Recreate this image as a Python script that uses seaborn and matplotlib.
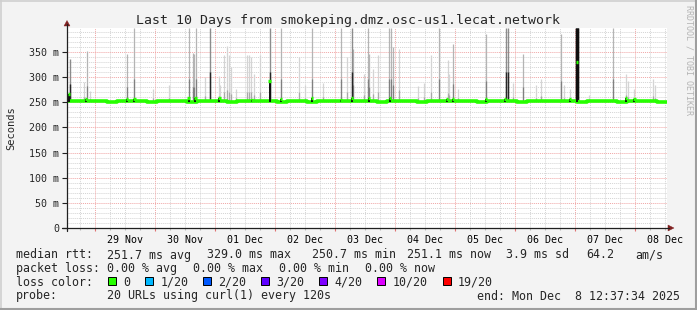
import numpy as np
import matplotlib
matplotlib.use("Agg")
import matplotlib.pyplot as plt
import seaborn as sns
import pandas as pd
from matplotlib.patches import Rectangle, Polygon
from matplotlib.lines import Line2D

W, H = 697, 310

# ---------------- data ----------------
title = "Last 10 Days from smokeping.dmz.osc-us1.lecat.network"
day_labels = ["29 Nov", "30 Nov", "01 Dec", "02 Dec", "03 Dec",
              "04 Dec", "05 Dec", "06 Dec", "07 Dec", "08 Dec"]
first_midnight_h = 11.1          # hours after graph start
y_tick_values = [0, 50, 100, 150, 200, 250, 300, 350]

# median rtt (ms), one value every 4 hours
base_median = [252.0, 251.5, 252.5, 251.8, 251.2, 252.0, 251.6, 252.3, 251.4, 251.9,
               252.2, 251.5, 251.0, 251.8, 252.4, 251.7, 251.3, 252.1, 251.6, 251.9,
               252.5, 251.4, 251.8, 252.0, 251.2, 251.7, 252.3, 251.5, 251.9, 251.6,
               252.1, 251.3, 251.8, 252.4, 251.6, 251.1, 251.9, 252.2, 251.5, 251.8,
               252.0, 251.4, 251.7, 252.3, 251.6, 251.2, 252.0, 251.8, 251.5, 252.1,
               251.7, 251.3, 251.9, 252.2, 251.6, 251.4, 251.8, 252.0, 251.5, 251.3, 251.1]

# smoke spikes: time (h), top of smoke (ms), shade (0 light .. 3 black)
spike_hours = [1.0, 6.9, 8.0, 9.2, 24.0, 26.9, 34.5, 40.9, 48.9, 50.5,
               50.9, 51.6, 55.2, 57.2, 60.9, 61.3, 62.9, 63.9, 64.7, 65.6,
               67.6, 71.9, 72.7, 73.7, 74.9, 77.2, 81.0, 85.6, 92.9, 95.2,
               98.0, 102.3, 109.6, 111.9, 114.0, 114.5, 118.9, 120.3, 120.9, 122.3,
               124.3, 128.9, 129.6, 130.5, 132.9, 140.3, 142.9, 145.6, 148.7, 152.3,
               152.9, 154.3, 156.3, 167.6, 175.6, 176.3, 178.3, 182.3, 187.6, 189.6,
               197.6, 198.9, 201.2, 204.0, 208.9, 218.3, 223.6, 224.3, 226.9, 234.3,
               235.3]
spike_tops = [335, 290, 352, 273, 346, 398, 276, 285, 398, 347,
              345, 398, 300, 398, 303, 285, 343, 362, 343, 320,
              276, 343, 343, 339, 306, 343, 398, 398, 339, 285,
              398, 288, 398, 339, 398, 355, 306, 398, 346, 316,
              343, 398, 398, 359, 355, 283, 288, 343, 398, 333,
              306, 365, 276, 386, 398, 398, 288, 346, 285, 296,
              386, 285, 276, 398, 265, 398, 306, 293, 276, 296,
              285]
spike_shade = [2, 0, 1, 0, 1, 1, 0, 0, 1, 1,
               1, 1, 0, 2, 0, 0, 0, 0, 0, 0,
               0, 0, 0, 0, 0, 0, 2, 1, 0, 0,
               1, 0, 1, 0, 2, 1, 0, 1, 1, 0,
               0, 1, 1, 1, 0, 0, 0, 0, 1, 0,
               0, 1, 0, 1, 2, 2, 0, 1, 0, 0,
               1, 0, 0, 3, 0, 1, 0, 0, 0, 0,
               0]

# median excursions (h, ms)
bump_hours = [0.8, 7.6, 24.0, 26.9, 48.6, 51.3, 60.9, 74.0, 81.0, 85.6,
              98.0, 109.6, 114.0, 120.7, 129.2, 152.0, 154.4, 167.6, 175.2, 201.2,
              204.0, 223.6, 226.9]
bump_values = [267, 256, 256, 257, 258, 258, 258, 255, 292, 257,
               258, 255, 259, 259, 258, 256, 257, 257, 256, 256,
               330, 258, 256]

# legend texts
stats_rtt = ["median rtt:", "251.7 ms avg", "329.0 ms max", "250.7 ms min",
             "251.1 ms now", "3.9 ms sd", "64.2", "am/s"]
stats_loss = ["packet loss:", "0.00 % avg", "0.00 % max", "0.00 % min", "0.00 % now"]
loss_labels = ["0", "1/20", "2/20", "3/20", "4/20", "10/20", "19/20"]
loss_colors = ["#26ff00", "#00b8ff", "#0059ff", "#5e00ff", "#7e00ff", "#dd00ff", "#ff0000"]
probe_text = "20 URLs using curl(1) every 120s"
end_text = "end: Mon Dec  8 12:37:34 2025"

# ---------------- style ----------------
sns.set_theme(style="white")
plt.rcParams["font.family"] = ["DejaVu Sans Mono", "DejaVu Sans"]

BG = "#f3f3f3"
GRID = "#d4d4d4"
MGRID = "#f0a6a6"

fig = plt.figure(figsize=(W / 100, H / 100), dpi=100, facecolor=BG)

def fx(x):
    return x / W

def fy(y):
    return 1 - y / H

# 3D frame
fig.add_artist(Rectangle((0, 0), 1, 1, transform=fig.transFigure,
                         facecolor=BG, edgecolor="none", zorder=-10))
fig.add_artist(Line2D([fx(0.5), fx(0.5)], [fy(0), fy(H)], color="#cfcfcf", lw=1.2))
fig.add_artist(Line2D([fx(0), fx(W)], [fy(0.5), fy(0.5)], color="#cfcfcf", lw=1.2))
fig.add_artist(Line2D([fx(W - 1), fx(W - 1)], [fy(0), fy(H)], color="#9e9e9e", lw=1.5))
fig.add_artist(Line2D([fx(0), fx(W)], [fy(H - 1), fy(H - 1)], color="#9e9e9e", lw=1.5))

ax = fig.add_axes([fx(67), fy(228), 600 / W, 200 / H])
ax.set_facecolor("white")
ax.set_xlim(0, 240)
ax.set_ylim(0, 397.6)
for s in ax.spines.values():
    s.set_visible(False)

# grid
midnights = first_midnight_h + 24 * np.arange(10)
six_h = np.arange(first_midnight_h - 24, 240, 6)
six_h = six_h[(six_h > 0) & (six_h < 240)]
minor_x = [v for v in six_h if min(abs(v - midnights)) > 0.5]
ax.vlines(minor_x, 0, 397.6, colors=GRID, lw=0.7, linestyles=(0, (1, 1)), zorder=0)
minor_y = [v for v in range(10, 400, 10) if v % 50 != 0]
ax.hlines(minor_y, 0, 240, colors=GRID, lw=0.7, linestyles=(0, (1, 1)), zorder=0)
ax.vlines(midnights, 0, 397.6, colors=MGRID, lw=0.7, linestyles=(0, (1, 1)), zorder=0.5)
ax.hlines([v for v in y_tick_values if v > 0], 0, 240, colors=MGRID, lw=0.7,
          linestyles=(0, (1, 1)), zorder=0.5)

# smoke spikes
shade_top = ["#d4d4d4", "#b4b4b4", "#8c8c8c", "#141414"]
shade_low = ["#a8a8a8", "#808080", "#262626", "#101010"]
shade_frac = [0.2, 0.3, 0.4, 1.0]
shade_lw = [0.9, 0.9, 1.0, 2.4]
sh = np.array(spike_hours)
st = np.array(spike_tops, dtype=float)
ss = np.array(spike_shade)
for k in range(4):
    m = ss == k
    if not m.any():
        continue
    ax.vlines(sh[m], 253, st[m], colors=shade_top[k], lw=shade_lw[k], zorder=2)
    ax.vlines(sh[m], 253, 253 + shade_frac[k] * (st[m] - 253),
              colors=shade_low[k], lw=shade_lw[k], zorder=2.1)

# median band
base_hours = np.arange(len(base_median)) * 4.0
df = pd.DataFrame({"h": base_hours, "median": base_median})
sns.lineplot(data=df, x="h", y="median", drawstyle="steps-post",
             color="#26ff00", linewidth=2.6, ax=ax, zorder=3)
bh = np.array(bump_hours)
bv = np.array(bump_values, dtype=float)
ax.vlines(bh, 251, bv, colors="#101010", lw=1.4, zorder=3.5)
ax.hlines(bv, bh - 0.5, bh + 0.5, colors="#26ff00", lw=2.4, zorder=4)
ax.set_xlabel("")
ax.set_ylabel("")

# ticks
noons = midnights + 12
ax.set_xticks(noons, labels=day_labels)
ax.set_yticks(y_tick_values, labels=[f"{v} m" if v else "0" for v in y_tick_values])
ax.tick_params(axis="x", length=0, pad=5, labelsize=7.2, colors="#000000")
ax.tick_params(axis="y", length=3.5, width=0.8, pad=2, labelsize=7.2,
               color="#202020", direction="out", left=True)
# small ticks below x axis
trans = ax.get_xaxis_transform()
ax.vlines(minor_x, -0.012, 0, colors="#bbbbbb", lw=0.8, transform=trans, clip_on=False)
ax.vlines(midnights, -0.015, 0, colors="#e07070", lw=0.8, transform=trans, clip_on=False)

# axes lines + arrows
AX = "#202020"
AR = "#802020"
fig.add_artist(Line2D([fx(61.5), fx(669)], [fy(228), fy(228)], color=AX, lw=0.9))
fig.add_artist(Line2D([fx(67), fx(67)], [fy(231), fy(24)], color=AX, lw=0.9))
fig.add_artist(Polygon([[fx(64), fy(26)], [fx(70), fy(26)], [fx(67), fy(20.5)]],
                       closed=True, transform=fig.transFigure, facecolor=AR, edgecolor=AR, lw=0.3))
fig.add_artist(Polygon([[fx(668), fy(225)], [fx(668), fy(231)], [fx(674), fy(228)]],
                       closed=True, transform=fig.transFigure, facecolor=AR, edgecolor=AR, lw=0.3))

# texts
fig.text(fx(348), fy(24), title, ha="center", va="baseline", fontsize=9.5)
fig.text(fx(11), fy(128), "Seconds", rotation=90, ha="center", va="center", fontsize=7.5)
fig.text(fx(688.5), fy(5), "RRDTOOL / TOBI OETIKER", rotation=270, ha="center", va="top",
         fontsize=6.0, color="#b4b4b4")

FS = 8.4
rtt_x = [16, 107, 207, 312.5, 407.5, 506.5, 586, 635]
for t, x in zip(stats_rtt, rtt_x):
    fig.text(fx(x), fy(258.5), t, ha="left", va="baseline", fontsize=FS)
loss_x = [16, 107, 193, 279, 365]
for t, x in zip(stats_loss, loss_x):
    fig.text(fx(x), fy(272), t, ha="left", va="baseline", fontsize=FS)
fig.text(fx(16), fy(285.5), "loss color:", ha="left", va="baseline", fontsize=FS)
sq_x = [108.3, 145.2, 203.3, 261.3, 319.3, 377.3, 442.7]
for lab, col, x in zip(loss_labels, loss_colors, sq_x):
    fig.add_artist(Rectangle((fx(x), fy(285)), 8 / W, 8 / H, transform=fig.transFigure,
                             facecolor=col, edgecolor="black", lw=0.7))
    fig.text(fx(x + 15), fy(285.5), lab, ha="left", va="baseline", fontsize=FS)
fig.text(fx(16), fy(299.5), "probe:", ha="left", va="baseline", fontsize=FS)
fig.text(fx(107), fy(299.5), probe_text, ha="left", va="baseline", fontsize=FS)
fig.text(fx(680), fy(299.5), end_text, ha="right", va="baseline", fontsize=FS)

fig.savefig("out.png", dpi=100, facecolor=BG)
